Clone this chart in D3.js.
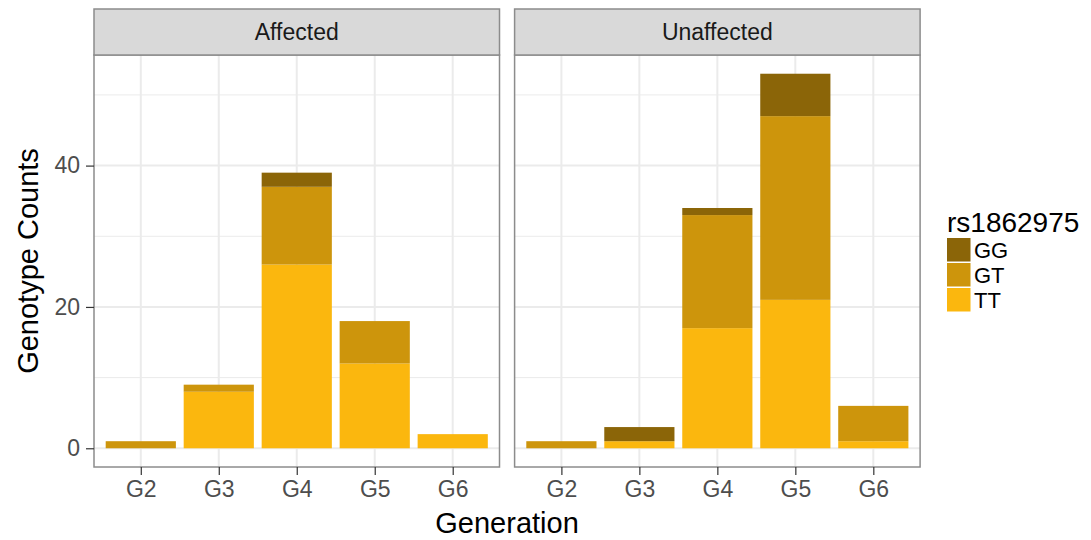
<!DOCTYPE html>
<html>
<head>
<meta charset="utf-8">
<script src="https://cdn.jsdelivr.net/npm/d3@7"></script>
<style>
  html, body { margin: 0; padding: 0; background: #fff; }
  svg { display: block; font-family: "Liberation Sans", Arial, Helvetica, sans-serif; }
</style>
</head>
<body>
<svg id="chart" width="1091" height="540"></svg>
<script>
// ---- data ----
const generations = ["G2", "G3", "G4", "G5", "G6"];
const panels = ["Affected", "Unaffected"];
const genotypes = ["GG", "GT", "TT"];          // legend order
const stackOrder = ["TT", "GT", "GG"];          // bottom to top
const affectedTT = [0, 8, 26, 12, 2];
const affectedGT = [1, 1, 11, 6, 0];
const affectedGG = [0, 0, 2, 0, 0];
const unaffectedTT = [0, 1, 17, 21, 1];
const unaffectedGT = [1, 0, 16, 26, 5];
const unaffectedGG = [0, 2, 1, 6, 0];
const yTicks = [0, 20, 40];
const yMinor = [10, 30, 50];
const legendTitle = "rs1862975";
const xTitle = "Generation";
const yTitle = "Genotype Counts";

const colors = { GG: "#8B6508", GT: "#CD950C", TT: "#FBB70E" };

function rows(tt, gt, gg) {
  return generations.map((g, i) => ({ gen: g, TT: tt[i], GT: gt[i], GG: gg[i] }));
}
const panelData = {
  Affected: rows(affectedTT, affectedGT, affectedGG),
  Unaffected: rows(unaffectedTT, unaffectedGT, unaffectedGG)
};

// ---- layout ----
const svg = d3.select("#chart");
const panelLefts = [94, 514.6];
const panelW = 405.5;
const stripTop = 9, stripBottom = 55, plotBottom = 467;

const allTotals = panels.flatMap(p => panelData[p].map(d => d.TT + d.GT + d.GG));
const maxV = d3.max(allTotals);
const y = d3.scaleLinear().domain([-0.05 * maxV, maxV * 1.05]).range([plotBottom, stripBottom]);

const stack = d3.stack().keys(stackOrder);
const borderCol = "#8c8c8c";
const gridCol = "#EBEBEB";
const tickTextCol = "#4D4D4D";

panels.forEach((p, pi) => {
  const left = panelLefts[pi];
  const x = d3.scalePoint().domain(generations).range([left, left + panelW]).padding(0.6);
  const bw = x.step() * 0.9;
  const g = svg.append("g");

  // grid minor
  g.selectAll(".ymin").data(yMinor).join("line")
    .attr("x1", left).attr("x2", left + panelW)
    .attr("y1", d => y(d)).attr("y2", d => y(d))
    .attr("stroke", gridCol).attr("stroke-width", 1);
  // grid major
  g.selectAll(".ymaj").data(yTicks).join("line")
    .attr("x1", left).attr("x2", left + panelW)
    .attr("y1", d => y(d)).attr("y2", d => y(d))
    .attr("stroke", gridCol).attr("stroke-width", 2);
  g.selectAll(".xmaj").data(generations).join("line")
    .attr("x1", d => x(d)).attr("x2", d => x(d))
    .attr("y1", stripBottom).attr("y2", plotBottom)
    .attr("stroke", gridCol).attr("stroke-width", 2);

  // bars
  const series = stack(panelData[p]);
  g.selectAll(".layer").data(series).join("g")
    .attr("fill", d => colors[d.key])
    .selectAll("rect").data(d => d.filter(s => s[1] > s[0])).join("rect")
    .attr("x", d => x(d.data.gen) - bw / 2)
    .attr("width", bw)
    .attr("y", d => y(d[1]))
    .attr("height", d => y(d[0]) - y(d[1]));

  // panel border
  g.append("rect").attr("x", left).attr("y", stripBottom)
    .attr("width", panelW).attr("height", plotBottom - stripBottom)
    .attr("fill", "none").attr("stroke", borderCol).attr("stroke-width", 1.5);

  // strip
  g.append("rect").attr("x", left).attr("y", stripTop)
    .attr("width", panelW).attr("height", stripBottom - stripTop)
    .attr("fill", "#D9D9D9").attr("stroke", borderCol).attr("stroke-width", 1.5);
  g.append("text").attr("x", left + panelW / 2).attr("y", (stripTop + stripBottom) / 2)
    .attr("dy", "0.36em").attr("text-anchor", "middle")
    .attr("font-size", 23).attr("fill", "#1A1A1A").text(p);

  // x axis
  const xAxis = d3.axisBottom(x).tickSize(8).tickPadding(6);
  const ax = svg.append("g").attr("transform", `translate(0,${plotBottom})`).call(xAxis);
  ax.select(".domain").remove();
  ax.selectAll(".tick line").attr("stroke", "#333").attr("stroke-width", 1.2);
  ax.selectAll(".tick text").attr("font-size", 23).attr("fill", tickTextCol)
    .attr("font-family", "Liberation Sans, Arial, sans-serif");
});

// y axis
const yAxis = d3.axisLeft(y).tickValues(yTicks).tickSize(8).tickPadding(6);
const ay = svg.append("g").attr("transform", `translate(${panelLefts[0]},0)`).call(yAxis);
ay.select(".domain").remove();
ay.selectAll(".tick line").attr("stroke", "#333").attr("stroke-width", 1.2);
ay.selectAll(".tick text").attr("font-size", 23).attr("fill", tickTextCol)
  .attr("font-family", "Liberation Sans, Arial, sans-serif");

// axis titles
svg.append("text").attr("x", (panelLefts[0] + panelLefts[1] + panelW) / 2).attr("y", 533)
  .attr("text-anchor", "middle").attr("font-size", 29).attr("fill", "#000").text(xTitle);
svg.append("text").attr("transform", `translate(38,${(stripBottom + plotBottom) / 2}) rotate(-90)`)
  .attr("text-anchor", "middle").attr("font-size", 29).attr("fill", "#000").text(yTitle);

// legend
const lg = svg.append("g").attr("transform", "translate(947,0)");
lg.append("text").attr("x", 0).attr("y", 232).attr("font-size", 28).attr("fill", "#000").text(legendTitle);
const keyY = 238, keyH = 25;
lg.selectAll(".key").data(genotypes).join("rect")
  .attr("x", 0).attr("y", (d, i) => keyY + i * keyH)
  .attr("width", 23.5).attr("height", keyH - 1.5)
  .attr("fill", d => colors[d]);
lg.selectAll(".lab").data(genotypes).join("text")
  .attr("x", 27).attr("y", (d, i) => keyY + i * keyH + keyH / 2)
  .attr("dy", "0.36em").attr("font-size", 22).attr("fill", "#000").text(d => d);
</script>
</body>
</html>
